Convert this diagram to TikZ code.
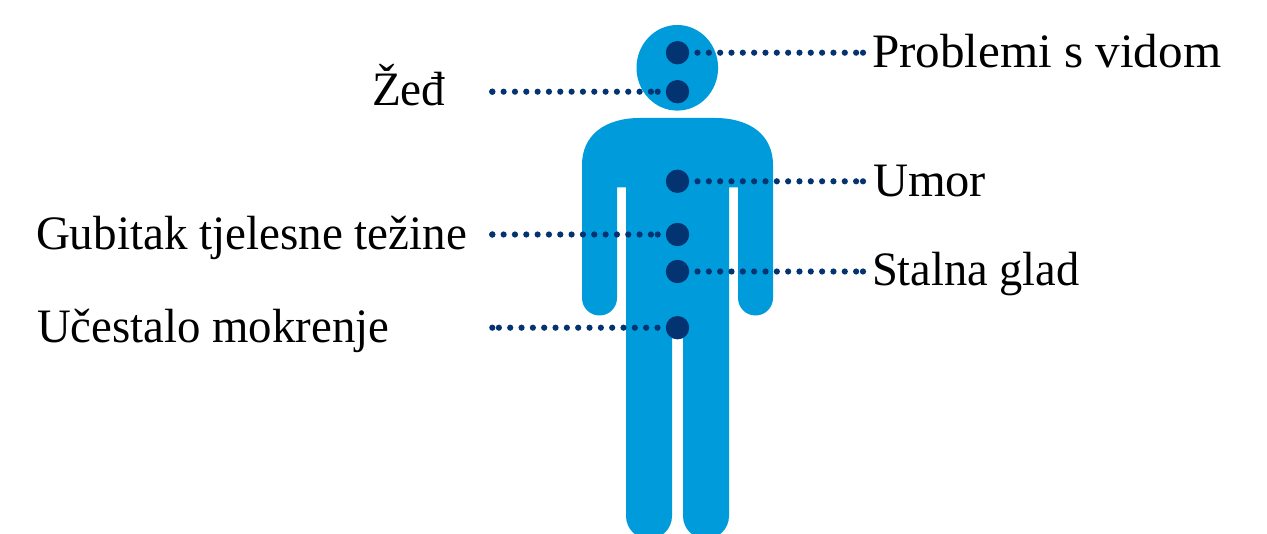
\documentclass[tikz,border=0pt]{standalone}
\usepackage{graphicx}
\usepackage{fontspec}
\setmainfont{Liberation Serif}
\definecolor{bodyblue}{RGB}{0,155,219}
\definecolor{dotnavy}{RGB}{3,51,112}
\tikzset{
  symptom/.style={circle,fill=dotnavy,minimum size=23.4pt,inner sep=0pt,outer sep=0pt},
  enddot/.style={circle,fill=dotnavy,minimum size=6.2pt,inner sep=0pt,outer sep=0pt},
  leader/.style={draw=dotnavy,line width=6.2pt,line cap=round,dash pattern=on 0pt off 11.33pt},
  leaderstart/.style={leader,shorten <=8.3pt},
  leaderend/.style={leader,shorten >=8.1pt},
  lab/.style={anchor=base west,inner sep=0pt,outer sep=0pt,text=black,font=\fontsize{48pt}{52pt}\selectfont}
}
\begin{document}
\begin{tikzpicture}[x=1pt,y=-1pt]
\useasboundingbox (0,0) rectangle (1267,534);
\begin{scope}
\clip (0,0) rectangle (1267,534);
\fill[bodyblue] (677.3,67.8) ellipse [x radius=40.8,y radius=42.8];
\fill[bodyblue] (582,298) -- (582,165)
  .. controls (582,135) and (605,118) .. (640,118)
  .. controls (660,118) and (695,118) .. (715,118)
  .. controls (750,118) and (773,135) .. (773,165)
  -- (773,298) arc[start angle=0,end angle=180,radius=17.5]
  -- (738,187.5) -- (729,187.5) -- (729,516) arc[start angle=0,end angle=180,radius=23]
  -- (683,335) -- (672,335) -- (672,516) arc[start angle=0,end angle=180,radius=23]
  -- (626,187.5) -- (617,187.5) -- (617,298) arc[start angle=0,end angle=180,radius=17.5]
  -- cycle;
\end{scope}
\node[symptom] (dvid) at (677.5,52.7) {};
\node[symptom] (dzed) at (677.5,91.7) {};
\node[symptom] (dumo) at (677.5,181.3) {};
\node[symptom] (dgub) at (677.5,234.5) {};
\node[symptom] (dgla) at (677.5,271.5) {};
\node[symptom] (dmok) at (677.5,327.7) {};
\node[enddot] (evid) at (863,52.7) {};
\node[enddot] (ezed) at (492.3,91.7) {};
\node[enddot] (fzed) at (657.7,91.7) {};
\node[enddot] (eumo) at (863,181.3) {};
\node[enddot] (egub) at (492.3,234.5) {};
\node[enddot] (fgub) at (657.7,234.5) {};
\node[enddot] (egla) at (863,271.5) {};
\node[enddot] (emok) at (492.3,327.7) {};
\draw[leaderstart] (dvid.east) -- (evid.center);
\draw[leaderstart] (dumo.east) -- (eumo.center);
\draw[leaderstart] (dgla.east) -- (egla.center);
\draw[leaderend] (ezed.center) -- (dzed.west);
\draw[leaderend] (egub.center) -- (dgub.west);
\draw[leaderstart] (dmok.west) -- (emok.center);
\node[lab] (tvid) at (872,67.5) {\scalebox{1.023}[1]{Problemi s vidom}};
\node[lab] (tzed) at (372,105.5) {\scalebox{.985}[1]{Žeđ}};
\node[lab] (tumo) at (873,196.5) {\scalebox{1.01}[1]{Umor}};
\node[lab] (tgub) at (36,249.5) {\scalebox{.98}[1]{Gubitak tjelesne težine}};
\node[lab] (tgla) at (872,285.5) {\scalebox{.967}[1]{Stalna glad}};
\node[lab] (tmok) at (37,342.5) {\scalebox{.975}[1]{Učestalo mokrenje}};
\end{tikzpicture}
\end{document}
